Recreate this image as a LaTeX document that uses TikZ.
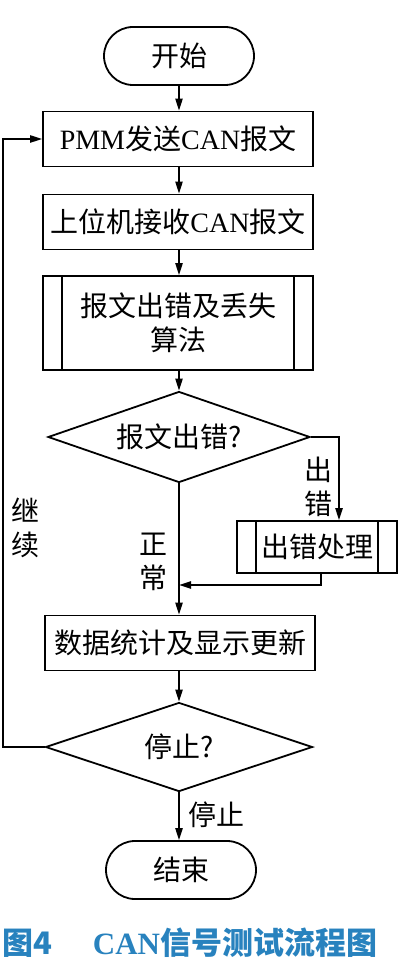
\documentclass[tikz,border=0pt]{standalone}
\usepackage{fontspec}
\setmainfont{Noto Sans CJK SC}
\newfontfamily\latin{Liberation Serif}
\usetikzlibrary{shapes.geometric,arrows.meta}
\definecolor{capblue}{RGB}{40,130,190}

\begin{document}
\begin{tikzpicture}[
    x=0.5pt, y=-0.5pt, line width=0.9pt,
    every node/.style={font=\fontsize{14pt}{17pt}\selectfont},
    box/.style={draw, align=center, inner sep=0pt, minimum width=135pt, minimum height=27.5pt},
    subbox/.style={box, path picture={
        \draw ([xshift=9.5pt]path picture bounding box.north west) -- ([xshift=9.5pt]path picture bounding box.south west)
              ([xshift=-9.5pt]path picture bounding box.north east) -- ([xshift=-9.5pt]path picture bounding box.south east);}},
    term/.style={draw, rounded corners=14.5pt, minimum width=75pt, minimum height=29pt},
    decide/.style={draw, diamond, aspect=2.9, inner sep=0pt},
    lbl/.style={align=center, inner sep=0pt},
    arr/.style={-{Triangle[length=6pt,width=3.6pt]}},
    capfont/.style={text=capblue, font=\fontsize{15.5pt}{17pt}\selectfont\bfseries}
]
\useasboundingbox (0,0) rectangle (408,978);

\node[term] (start) at (179,56) {开始};
\node[box] (send) at (178,139) {{\latin PMM}发送{\latin CAN}报文};
\node[box] (recv) at (178,222) {上位机接收{\latin CAN}报文};
\node[subbox, minimum height=47pt] (algo) at (178,323) {报文出错及丢失\\算法};
\node[decide, minimum width=131pt, minimum height=45.5pt] (chk) at (179,437) {报文出错?};
\node[subbox, minimum width=80pt, minimum height=26pt] (fix) at (317,547) {出错处理};
\node[box] (stat) at (180,643) {数据统计及显示更新};
\node[decide, minimum width=133.5pt, minimum height=44.5pt] (stop) at (179,747) {停止?};
\node[term] (end) at (181,870) {结束};
\coordinate (merge) at (179,585);

% labels
\node[lbl] (lblerr) at (318,487) {出\\错};
\node[lbl] (lblok) at (153,562) {正\\常};
\node[lbl] (lblgo) at (25,528) {继\\续};
\node[lbl] (lblstop) at (216,815) {停止};

% caption
\node[capfont] (capnum) at (27,943) {图4};
\node[capfont] (captext) at (235,943) {{\latin CAN}信号测试流程图};

\draw[arr] (start) -- (start |- send.north);
\draw[arr] (send.south -| start) -- (start |- recv.north);
\draw[arr] (recv.south -| start) -- (start |- algo.north);
\draw[arr] (algo.south -| chk) -- (chk.north);
\draw[arr] (chk.east) -| ([xshift=11pt]fix.north);
\draw[arr] ([xshift=2pt]fix.south) |- (merge);
\draw[arr] (chk.south) -- (stat.north -| chk.south);
\draw[arr] (stat.south -| stop.north) -- (stop.north);
\draw[arr] (stop.west) -- ++(-21pt,0) |- (send.west);
\draw[arr] (stop.south) -- (stop.south |- end.north);
\end{tikzpicture}
\end{document}
